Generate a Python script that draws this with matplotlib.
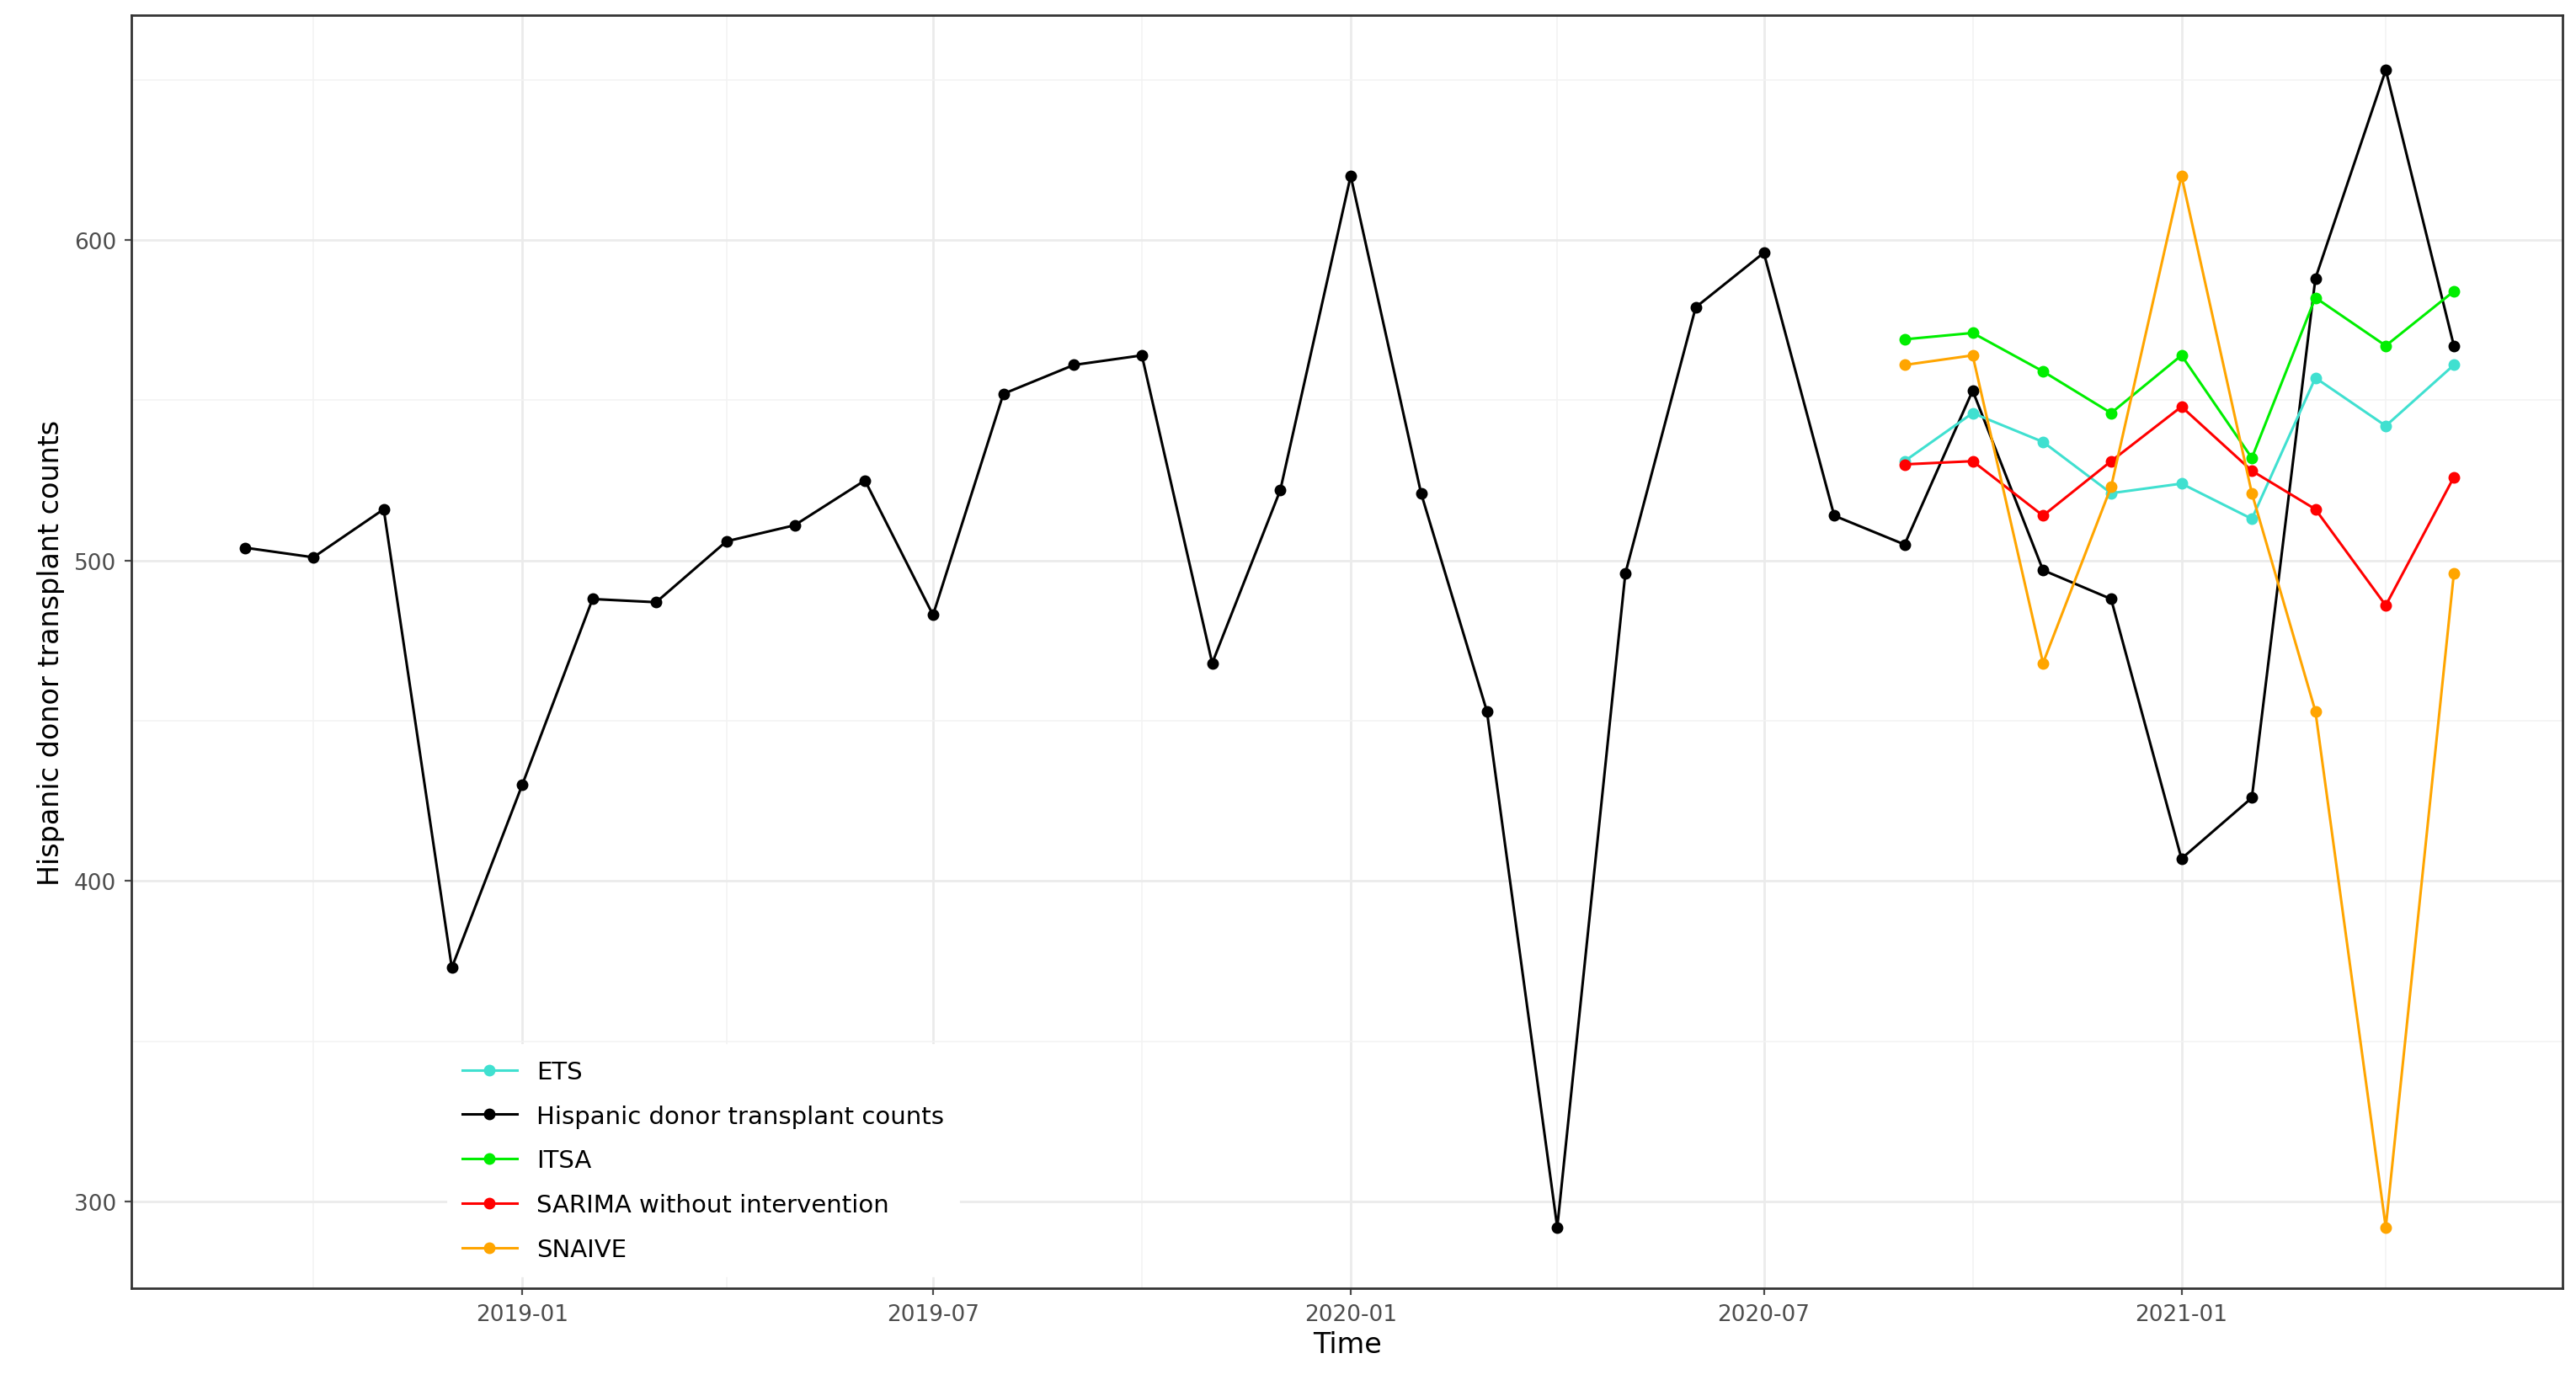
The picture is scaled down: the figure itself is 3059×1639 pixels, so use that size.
import numpy as np
import pandas as pd
import matplotlib
matplotlib.use("Agg")
import matplotlib.pyplot as plt
import matplotlib.dates as mdates

obs_dates = pd.date_range("2018-09-01", "2021-05-01", freq="MS")
obs_vals = [504, 501, 516, 373, 430, 488, 487, 506, 511, 525, 483, 552,
            561, 564, 468, 522, 620, 521, 453, 292, 496, 579, 596, 514,
            505, 553, 497, 488, 407, 426, 588, 653, 567]

fc_dates = pd.date_range("2020-09-01", "2021-05-01", freq="MS")
ets = [531, 546, 537, 521, 524, 513, 557, 542, 561]
itsa = [569, 571, 559, 546, 564, 532, 582, 567, 584]
sarima = [530, 531, 514, 531, 548, 528, 516, 486, 526]
snaive = [561, 564, 468, 523, 620, 521, 453, 292, 496]

fig = plt.figure(figsize=(15.295, 8.2), dpi=200)
ax = fig.add_axes([80 / 1564, 1 - 787 / 843, (1556 - 80) / 1564, (787 - 10) / 843])

series = [
    ("ETS", fc_dates, ets, "#40E0D0"),
    ("Hispanic donor transplant counts", obs_dates, obs_vals, "black"),
    ("ITSA", fc_dates, itsa, "#00EE00"),
    ("SARIMA without intervention", fc_dates, sarima, "red"),
    ("SNAIVE", fc_dates, snaive, "orange"),
]
# draw observed first so forecasts sit on top
order = [1, 0, 2, 3, 4]
handles = {}
for i in order:
    name, d, v, c = series[i]
    h, = ax.plot(d, v, color=c, marker="o", markersize=4, linewidth=1.1, label=name)
    handles[i] = h

ax.set_ylim(273, 670)
ax.set_xlim(pd.Timestamp("2018-07-13"), pd.Timestamp("2021-06-18"))
ax.set_yticks([300, 400, 500, 600])
ax.set_yticks([350, 450, 550, 650], minor=True)
ax.xaxis.set_major_locator(mdates.MonthLocator(bymonth=[1, 7]))
ax.xaxis.set_minor_locator(mdates.MonthLocator(bymonth=[4, 10]))
ax.xaxis.set_major_formatter(mdates.DateFormatter("%Y-%m"))
ax.grid(which="major", color="#EBEBEB", linewidth=1.0)
ax.grid(which="minor", color="#F3F3F3", linewidth=0.6)
ax.set_axisbelow(True)
ax.tick_params(axis="both", which="major", labelsize=9.5, colors="#4D4D4D", length=3)
ax.tick_params(axis="both", which="minor", length=0)
for s in ax.spines.values():
    s.set_color("#333333")
    s.set_linewidth(1.0)
ax.set_xlabel("Time", fontsize=12, labelpad=2)
ax.set_ylabel("Hispanic donor transplant counts", fontsize=12, labelpad=4)

leg = ax.legend([handles[i] for i in range(5)], [s[0] for s in series],
                loc="lower left", bbox_to_anchor=(0.125, 0.0), fontsize=10.5,
                frameon=True, fancybox=False, edgecolor="white", framealpha=1,
                handlelength=2.2, labelspacing=0.85, borderpad=0.6)

fig.savefig("out.png", dpi=200)
